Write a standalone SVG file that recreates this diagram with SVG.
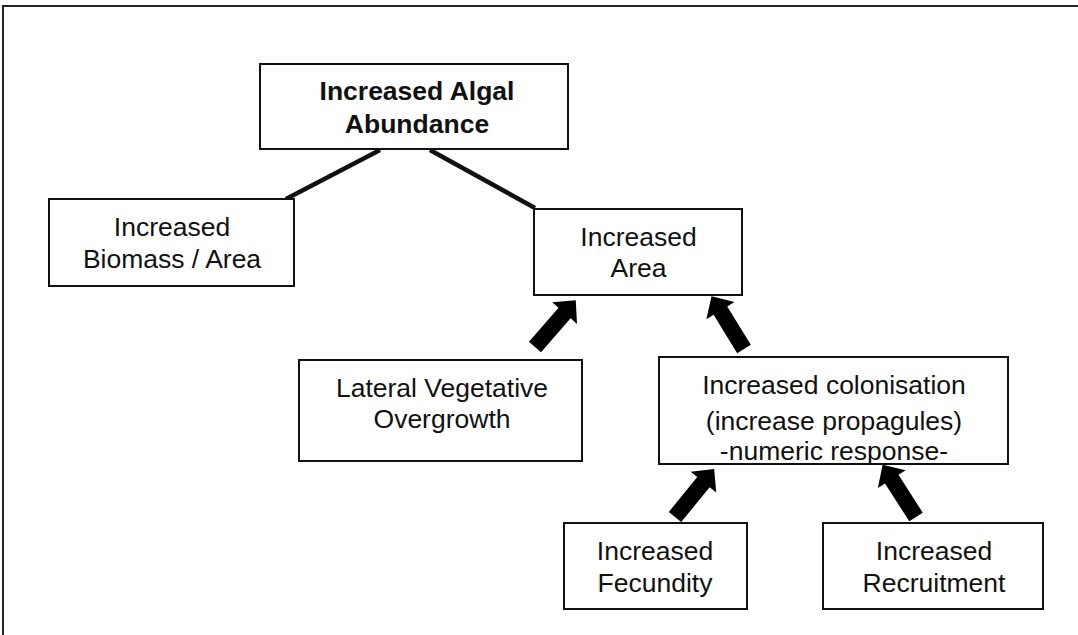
<svg xmlns="http://www.w3.org/2000/svg" width="1078" height="635" viewBox="0 0 1078 635">
<style>
.box{fill:#fff;stroke:#111;stroke-width:2}
.t{font-family:"Liberation Sans",Arial,sans-serif;font-size:26.5px;fill:#111;text-anchor:middle}
.b{font-weight:bold}
.ln{stroke:#111;stroke-width:4.5;fill:none;stroke-linecap:butt}
.frame{stroke:#222;stroke-width:2;fill:none}
</style>
<defs>
<path id="arr" d="M0,-8 L45,-8 L45,-16.5 L62,0 L45,16.5 L45,8 L0,8 Z" fill="#000"/>
</defs>
<rect width="1078" height="635" fill="#fff"/>
<path class="frame" d="M3,635 L3,6 L1078,6"/>
<g id="connectors">
<line class="ln" x1="380" y1="150" x2="286" y2="199"/>
<line class="ln" x1="430" y1="150" x2="535" y2="208" stroke-width="4"/>
<use href="#arr" transform="translate(535,347) rotate(-48.9)"/>
<use href="#arr" transform="translate(744,349) rotate(-121.6)"/>
<use href="#arr" transform="translate(675,517) rotate(-50.8)"/>
<use href="#arr" transform="translate(916,517) rotate(-122.6)"/>
</g>
<g id="n-abundance">
<rect class="box" x="260" y="64" width="308" height="85"/>
<text class="t b" x="417" y="100">Increased Algal</text>
<text class="t b" x="417" y="133">Abundance</text>
</g>
<g id="n-biomass">
<rect class="box" x="49" y="199" width="245" height="87"/>
<text class="t" x="172" y="236">Increased</text>
<text class="t" x="172" y="268">Biomass / Area</text>
</g>
<g id="n-area">
<rect class="box" x="534" y="209" width="208" height="86"/>
<text class="t" x="638.5" y="246">Increased</text>
<text class="t" x="638.5" y="277">Area</text>
</g>
<g id="n-lateral">
<rect class="box" x="299" y="360" width="283" height="101"/>
<text class="t" x="442" y="397">Lateral Vegetative</text>
<text class="t" x="442" y="428">Overgrowth</text>
</g>
<g id="n-colonisation">
<rect class="box" x="659" y="357" width="349" height="107"/>
<text class="t" x="834" y="394">Increased colonisation</text>
<text class="t" x="834" y="430">(increase propagules)</text>
<text class="t" x="834" y="460">-numeric response-</text>
</g>
<g id="n-fecundity">
<rect class="box" x="564" y="523" width="183" height="86"/>
<text class="t" x="655" y="560">Increased</text>
<text class="t" x="655" y="592">Fecundity</text>
</g>
<g id="n-recruitment">
<rect class="box" x="823" y="523" width="220" height="86"/>
<text class="t" x="934" y="560">Increased</text>
<text class="t" x="934" y="592">Recruitment</text>
</g>
</svg>
